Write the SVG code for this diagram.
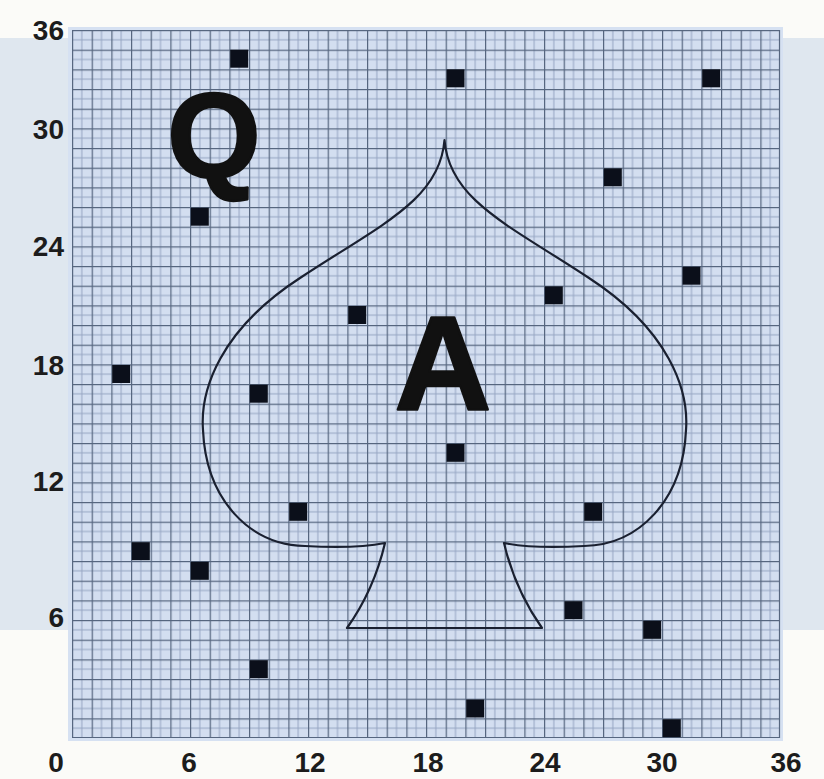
<svg xmlns="http://www.w3.org/2000/svg" width="824" height="779" viewBox="0 0 824 779">
  <defs>
    <style>
      .lbl { font-family: "Liberation Sans", Arial, sans-serif; font-weight: bold; font-size: 28px; fill: #1c1c1c; }
      .big { font-family: "Liberation Sans", Arial, sans-serif; font-weight: bold; fill: #111; stroke: #111; stroke-width: 2.5; stroke-linejoin: round; text-anchor: middle; }
      .pt { fill: #0b0f1a; }
      .spade { fill: none; stroke: #1a2030; stroke-width: 2.2; stroke-linejoin: round; }
    </style>
    <pattern id="grid" x="72" y="30" width="19.667" height="19.667" patternUnits="userSpaceOnUse">
      <rect width="19.667" height="19.667" fill="#d3def0"/>
      <line x1="9.83" y1="0" x2="9.83" y2="19.667" stroke="#95a5c2" stroke-width="1"/>
      <line x1="0" y1="9.83" x2="19.667" y2="9.83" stroke="#95a5c2" stroke-width="1"/>
      <line x1="0.6" y1="0" x2="0.6" y2="19.667" stroke="#56667f" stroke-width="1.2"/>
      <line x1="0" y1="0.6" x2="19.667" y2="0.6" stroke="#56667f" stroke-width="1.2"/>
    </pattern>
  </defs>

  <!-- background -->
  <rect x="0" y="0" width="824" height="779" fill="#fbfbf8"/>
  <rect x="0" y="38" width="824" height="592" fill="#dfe7ef"/>

  <!-- grid panel -->
  <g id="grid-panel">
    <rect x="68" y="27" width="715" height="714" fill="#d6e1f2"/>
    <rect x="72" y="30" width="708" height="708" fill="url(#grid)"/>
    <line x1="779.5" y1="30" x2="779.5" y2="738" stroke="#56667f" stroke-width="1.2"/>
    <line x1="72" y1="737.5" x2="780" y2="737.5" stroke="#56667f" stroke-width="1.2"/>
  </g>

  <!-- axis labels -->
  <g id="y-axis" class="lbl" text-anchor="end">
    <text x="64" y="40">36</text>
    <text x="64" y="139">30</text>
    <text x="64" y="256">24</text>
    <text x="64" y="375">18</text>
    <text x="64" y="491">12</text>
    <text x="64" y="627">6</text>
  </g>
  <g id="x-axis" class="lbl" text-anchor="middle">
    <text x="56" y="772">0</text>
    <text x="189" y="772">6</text>
    <text x="310" y="772">12</text>
    <text x="428" y="772">18</text>
    <text x="545" y="772">24</text>
    <text x="662" y="772">30</text>
    <text x="786" y="772">36</text>
  </g>

  <!-- spade outline -->
  <g id="spade">
    <path class="spade" d="M444.5,140 C440,200 380,225 300,278 C220,330 200,390 203,430 C206,500 250,545 305,546 C340,548 365,547 385,543 Q374,590 347,628 L542,628 Q515,590 504,543 C524,547 549,548 584,546 C639,545 683,500 686,430 C689,390 669,330 589,278 C509,225 449,200 444.5,140 Z"/>
  </g>

  <!-- letters -->
  <g id="letter-q"><text class="big" x="214" y="177" font-size="120">Q</text></g>
  <g id="letter-a"><text class="big" x="443" y="410" font-size="134">A</text></g>

  <!-- points -->
  <g id="points" class="pt">
    <rect x="230.2" y="49.7" width="18" height="18"/>
    <rect x="446.5" y="69.3" width="18" height="18"/>
    <rect x="702.2" y="69.3" width="18" height="18"/>
    <rect x="603.8" y="168.3" width="18" height="18"/>
    <rect x="190.8" y="207.7" width="18" height="18"/>
    <rect x="682.5" y="266.7" width="18" height="18"/>
    <rect x="544.8" y="286.3" width="18" height="18"/>
    <rect x="348.2" y="306" width="18" height="18"/>
    <rect x="112.2" y="365" width="18" height="18"/>
    <rect x="249.8" y="384.7" width="18" height="18"/>
    <rect x="446.5" y="443.8" width="18" height="18"/>
    <rect x="289.2" y="502.8" width="18" height="18"/>
    <rect x="584.2" y="502.8" width="18" height="18"/>
    <rect x="131.8" y="542.2" width="18" height="18"/>
    <rect x="190.8" y="561.8" width="18" height="18"/>
    <rect x="564.5" y="601.2" width="18" height="18"/>
    <rect x="643.2" y="620.8" width="18" height="18"/>
    <rect x="249.8" y="660.2" width="18" height="18"/>
    <rect x="466.2" y="699.5" width="18" height="18"/>
    <rect x="662.8" y="719.2" width="18" height="18"/>
  </g>
</svg>
